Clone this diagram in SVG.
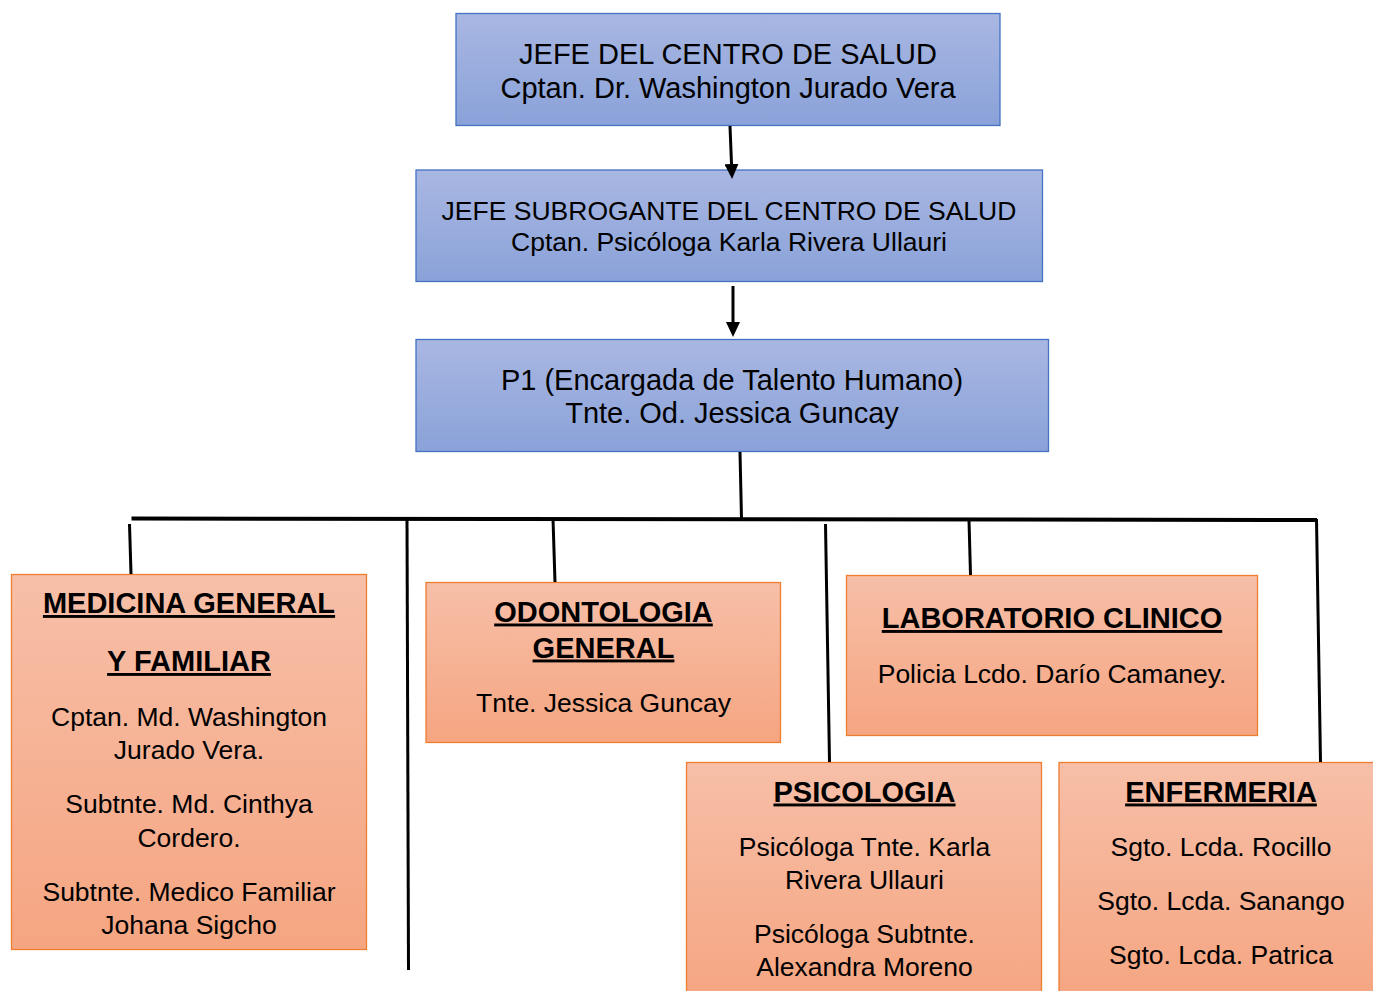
<svg xmlns="http://www.w3.org/2000/svg" width="1373" height="991" viewBox="0 0 1373 991">
  <defs>
    <linearGradient id="gBlue" x1="0" y1="0" x2="0" y2="1">
      <stop offset="0" stop-color="#a9b7e2"/>
      <stop offset="1" stop-color="#8aa2d9"/>
    </linearGradient>
    <linearGradient id="gOrange" x1="0" y1="0" x2="0" y2="1">
      <stop offset="0" stop-color="#f7bfa8"/>
      <stop offset="1" stop-color="#f5a581"/>
    </linearGradient>
    <marker id="arrow" viewBox="0 0 15 14" refX="0" refY="7" markerWidth="15" markerHeight="14" markerUnits="userSpaceOnUse" orient="auto">
      <path d="M0,0 L15,7 L0,14 Z" fill="#000"/>
    </marker>
    <style>
      .blue { fill: url(#gBlue); stroke: #4472c4; stroke-width: 1.3; }
      .orange { fill: url(#gOrange); stroke: #ed7d31; stroke-width: 1.3; }
      text { font-family: "Liberation Sans", Arial, sans-serif; fill: #000; text-anchor: middle; }
      .t29 { font-size: 29px; }
      .t26 { font-size: 26.5px; }
      .h { font-size: 29px; font-weight: bold; text-decoration: underline; text-decoration-thickness: 3px; }
      .conn { stroke: #000; stroke-width: 3; fill: none; }
      .bar { stroke: #000; stroke-width: 4; fill: none; }
    </style>
  </defs>

  <g id="jefe">
    <rect class="blue" x="456" y="13.5" width="544" height="112"/>
    <text class="t29" x="728" y="63.5">JEFE DEL CENTRO DE SALUD</text>
    <text class="t29" x="728" y="98">Cptan. Dr. Washington Jurado Vera</text>
  </g>

  <g id="subrogante">
    <rect class="blue" x="416" y="170" width="626.5" height="111.5"/>
    <text class="t26" x="729" y="220">JEFE SUBROGANTE DEL CENTRO DE SALUD</text>
    <text class="t26" x="729" y="251">Cptan. Psicóloga Karla Rivera Ullauri</text>
  </g>

  <g id="p1">
    <rect class="blue" x="416" y="339.5" width="632.5" height="112"/>
    <text class="t29" x="732" y="390">P1 (Encargada de Talento Humano)</text>
    <text class="t29" x="732" y="423">Tnte. Od. Jessica Guncay</text>
  </g>

  <g id="medicina">
    <rect class="orange" x="11.5" y="574.5" width="355" height="375"/>
    <text class="h" x="189" y="613">MEDICINA GENERAL</text>
    <text class="h" x="189" y="671">Y FAMILIAR</text>
    <text class="t26" x="189" y="726">Cptan. Md. Washington</text>
    <text class="t26" x="189" y="759">Jurado Vera.</text>
    <text class="t26" x="189" y="813">Subtnte. Md. Cinthya</text>
    <text class="t26" x="189" y="846.5">Cordero.</text>
    <text class="t26" x="189" y="901">Subtnte. Medico Familiar</text>
    <text class="t26" x="189" y="934">Johana Sigcho</text>
  </g>

  <g id="odontologia">
    <rect class="orange" x="426" y="582.5" width="354.5" height="160"/>
    <text class="h" x="603.5" y="621.5">ODONTOLOGIA</text>
    <text class="h" x="603.5" y="657.5">GENERAL</text>
    <text class="t26" x="603.5" y="712">Tnte. Jessica Guncay</text>
  </g>

  <g id="laboratorio">
    <rect class="orange" x="846.5" y="575.5" width="411" height="160"/>
    <text class="h" x="1052" y="628">LABORATORIO CLINICO</text>
    <text class="t26" x="1052" y="683">Policia Lcdo. Darío Camaney.</text>
  </g>

  <g id="psicologia">
    <rect class="orange" x="686.5" y="762.5" width="355" height="240"/>
    <text class="h" x="864.5" y="801.5">PSICOLOGIA</text>
    <text class="t26" x="864.5" y="855.5">Psicóloga Tnte. Karla</text>
    <text class="t26" x="864.5" y="889">Rivera Ullauri</text>
    <text class="t26" x="864.5" y="943">Psicóloga Subtnte.</text>
    <text class="t26" x="864.5" y="975.5">Alexandra Moreno</text>
  </g>

  <g id="enfermeria">
    <rect class="orange" x="1059" y="762.5" width="330" height="240"/>
    <text class="h" x="1221" y="801.5">ENFERMERIA</text>
    <text class="t26" x="1221" y="856">Sgto. Lcda. Rocillo</text>
    <text class="t26" x="1221" y="910">Sgto. Lcda. Sanango</text>
    <text class="t26" x="1221" y="964">Sgto. Lcda. Patrica</text>
  </g>

  <g id="connectors">
    <path class="conn" d="M730,126 L731.5,164" marker-end="url(#arrow)"/>
    <path class="conn" d="M733,286 L733,322" marker-end="url(#arrow)"/>
    <path class="conn" d="M740,452 L741.5,519"/>
    <path class="bar" d="M131.5,518.5 L1317,520"/>
    <path class="conn" d="M129.5,524 L131,574"/>
    <path class="conn" d="M407,519 L408.5,970"/>
    <path class="conn" d="M553,519 L555,582"/>
    <path class="conn" d="M825.5,524 L829.5,762"/>
    <path class="conn" d="M969,520 L970.5,575"/>
    <path class="conn" d="M1316.5,519 L1320.5,762"/>
  </g>
</svg>
